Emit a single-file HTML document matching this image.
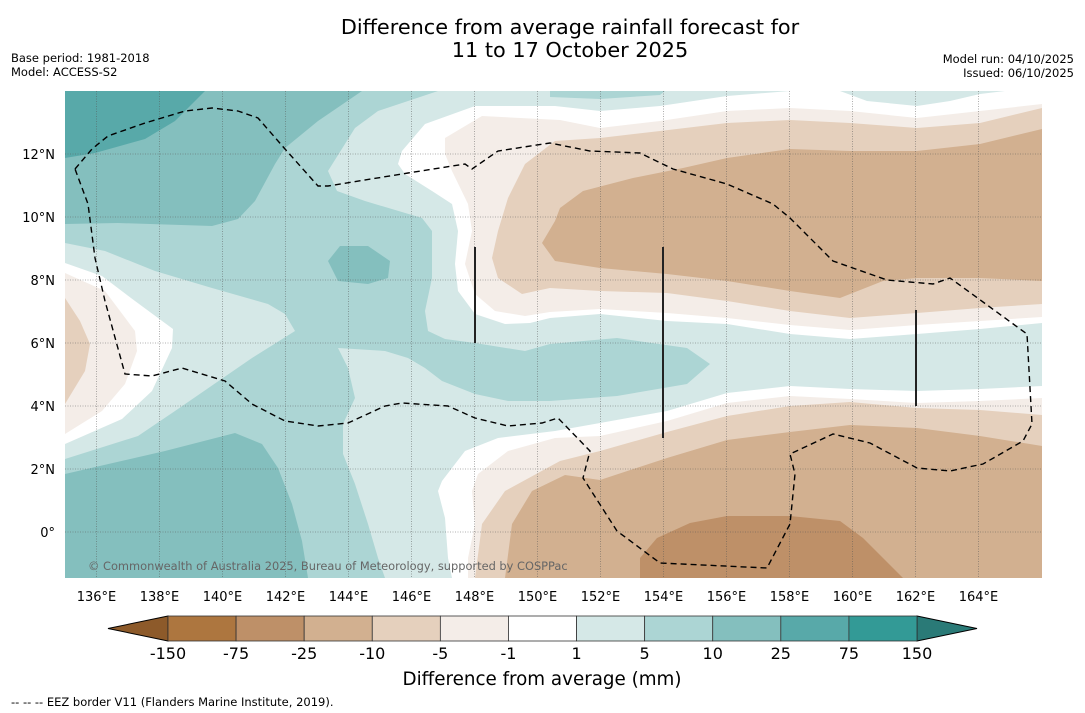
<!DOCTYPE html>
<html><head><meta charset="utf-8"><style>
body{margin:0;background:#fff;}
svg{display:block;font-family:"DejaVu Sans","Liberation Sans",sans-serif;}
</style></head><body>
<svg width="1085" height="713" viewBox="0 0 1085 713" xmlns="http://www.w3.org/2000/svg">
<text x="570" y="34" font-size="20.8" text-anchor="middle">Difference from average rainfall forecast for</text>
<text x="570" y="57" font-size="20.8" text-anchor="middle">11 to 17 October 2025</text>
<text x="11" y="62" font-size="11.5">Base period: 1981-2018</text>
<text x="11" y="76" font-size="11.5">Model: ACCESS-S2</text>
<text x="1074" y="63" font-size="11.5" text-anchor="end">Model run: 04/10/2025</text>
<text x="1074" y="77" font-size="11.5" text-anchor="end">Issued: 06/10/2025</text>
<defs><clipPath id="mc"><rect x="65" y="91" width="977" height="487"/></clipPath></defs>
<g clip-path="url(#mc)">
<rect x="65" y="91" width="977" height="487" fill="#d5e8e7"/>
<path fill="#acd5d4" d="M65,91 L438,91 L378,111 L355,128 L328,171 L337,191 L365,201 L422,218 L432,231 L432,278 L425,311 L428,331 L445,339 L475,343 L525,351 L550,344 L617,338 L687,348 L710,364 L687,384 L617,396 L550,401 L508,401 L475,394 L442,381 L425,368 L408,358 L385,351 L338,348 L348,368 L355,398 L343,424 L343,454 L355,484 L368,524 L378,558 L385,578 L65,578 L65,459 L138,436 L175,411 L252,358 L295,331 L285,314 L268,304 L212,288 L155,271 L105,251 L65,243 Z"/>
<path fill="#acd5d4" d="M550,91 L550,97 L600,99 L660,95 L665,91 Z"/>
<path fill="#84bfbe" d="M65,91 L362,91 L318,121 L285,148 L275,164 L255,201 L238,219 L212,226 L118,223 L65,224 Z"/>
<path fill="#84bfbe" d="M65,474 L165,451 L235,433 L262,444 L278,468 L292,504 L302,541 L308,578 L65,578 Z"/>
<path fill="#84bfbe" d="M328,261 L340,246 L368,246 L390,261 L388,278 L368,284 L338,281 Z"/>
<path fill="#58a9a9" d="M65,91 L205,91 L175,121 L145,139 L95,153 L65,158 Z"/>
<path fill="#ffffff" d="M65,263 L102,276 L135,301 L173,329 L172,348 L152,391 L122,419 L65,444 Z"/>
<path fill="#f4ede8" d="M65,273 L105,291 L135,331 L137,351 L125,384 L102,411 L65,434 Z"/>
<path fill="#e5d0bd" d="M65,298 L80,321 L90,344 L85,371 L65,404 Z"/>
<path fill="#ffffff" d="M1042,91 L790,91 L727,96 L660,106 L600,111 L555,106 L475,106 L425,124 L402,151 L398,164 L405,174 L432,191 L452,204 L458,231 L455,264 L458,291 L475,314 L505,324 L530,323 L550,318 L600,314 L667,321 L727,324 L790,334 L850,339 L917,334 L980,329 L1042,323 Z"/>
<path fill="#d5e8e7" d="M840,91 L867,101 L917,106 L950,101 L980,94 L1005,91 Z"/>
<path fill="#f4ede8" d="M1042,104 L980,111 L917,118 L850,111 L790,108 L727,111 L660,121 L600,128 L560,120 L482,116 L445,138 L445,154 L452,171 L468,204 L472,231 L465,264 L475,294 L495,311 L525,316 L550,312 L600,309 L667,313 L727,318 L790,325 L850,330 L917,325 L980,321 L1042,317 Z"/>
<path fill="#e5d0bd" d="M1042,108 L980,123 L917,128 L850,123 L790,120 L727,123 L660,131 L600,138 L555,141 L525,164 L508,198 L498,231 L492,258 L498,278 L522,294 L550,288 L600,291 L667,293 L727,301 L790,311 L850,318 L917,313 L980,308 L1042,304 Z"/>
<path fill="#d2b090" d="M542,243 L555,221 L560,208 L583,191 L633,178 L683,168 L727,158 L790,149 L850,151 L917,151 L980,144 L1042,129 L1042,281 L980,278 L917,278 L883,281 L840,298 L790,291 L727,281 L667,274 L600,268 L555,261 Z"/>
<path fill="#ffffff" d="M555,431 L498,438 L465,451 L442,481 L438,491 L445,518 L448,558 L452,578 L1042,578 L1042,386 L980,389 L917,391 L850,389 L790,386 L727,393 L667,411 L600,423 Z"/>
<path fill="#f4ede8" d="M555,438 L508,451 L478,474 L472,491 L475,524 L468,558 L468,578 L1042,578 L1042,398 L980,401 L917,403 L850,399 L790,396 L727,403 L667,421 L600,436 Z"/>
<path fill="#e5d0bd" d="M560,461 L505,491 L482,524 L475,578 L1042,578 L1042,415 L980,410 L917,408 L850,402 L790,406 L727,416 L667,432 L600,451 Z"/>
<path fill="#d2b090" d="M565,475 L532,491 L512,524 L505,578 L1042,578 L1042,446 L980,436 L917,428 L850,425 L790,432 L727,440 L667,458 L600,480 Z"/>
<path fill="#be9068" d="M640,578 L640,558 L657,538 L690,523 L727,516 L790,516 L840,521 L863,538 L883,558 L903,578 Z"/>
<g id="grid" stroke="#555" stroke-width="0.8" stroke-dasharray="1,1.5" opacity="0.6"></g>
<path fill="none" stroke="#000" stroke-width="1.4" stroke-dasharray="6,4" d="M75,169 L92,149 L108,136 L145,123 L185,111 L212,108 L238,111 L258,118 L285,149 L318,186 L328,186 L408,173 L465,164 L472,169 L498,151 L550,143 L590,151 L640,153 L673,169 L727,184 L773,204 L790,218 L833,261 L887,280 L933,284 L950,278 L1027,334 L1032,424 L1023,441 L983,464 L950,471 L917,468 L870,443 L833,434 L790,454 L795,474 L790,524 L767,568 L660,563 L617,531 L583,478 L590,451 L558,418 L542,423 L508,426 L475,418 L448,406 L402,403 L385,406 L348,423 L318,426 L285,421 L252,404 L225,381 L182,368 L152,376 L125,374 L105,301 L95,258 L88,204 Z"/>
<g stroke="#222" stroke-width="2">
<line x1="475" y1="247" x2="475" y2="343"/><line x1="663" y1="247" x2="663" y2="438"/><line x1="916" y1="310" x2="916" y2="406"/>
</g>
<text x="88" y="570" font-size="11.4" fill="#666">© Commonwealth of Australia 2025, Bureau of Meteorology, supported by COSPPac</text>
</g>
<g id="axes" font-size="13"></g>
<g id="cbar"></g>
<text x="542" y="685" font-size="18.3" text-anchor="middle">Difference from average (mm)</text>
<text x="11" y="706" font-size="11.5">--  --  -- EEZ border V11 (Flanders Marine Institute, 2019).</text>
</svg>
<script>
const NS='http://www.w3.org/2000/svg';
const lonTicks=[136,138,140,142,144,146,148,150,152,154,156,158,160,162,164];
const latTicks=[0,2,4,6,8,10,12];
const cbLevels=['-150','-75','-25','-10','-5','-1','1','5','10','25','75','150'];
const cbColors=['#ad763f','#be9068','#d2b090','#e5d0bd','#f4ede8','#ffffff','#d5e8e7','#acd5d4','#84bfbe','#58a9a9','#339a96'];
const cbExt=['#8d5a2a','#2a7a77'];
const lon0=135,lonPx=31.5,lat0=14,latPx=31.5;
const xs=l=>65+(l-lon0)*lonPx, ys=l=>91+(lat0-l)*latPx;
function mk(t,a,p){const e=document.createElementNS(NS,t);for(const k in a)e.setAttribute(k,a[k]);p.appendChild(e);return e;}
const grid=document.getElementById('grid'),axes=document.getElementById('axes'),cb=document.getElementById('cbar');
lonTicks.forEach(l=>{
 const ln=mk('line',{x1:xs(l),x2:xs(l),y1:91,y2:578},grid);
 
 
 const t=mk('text',{x:xs(l),y:601,'text-anchor':'middle'},axes);t.textContent=l+'°E';
 
 
});
latTicks.forEach(l=>{
 const ln=mk('line',{x1:65,x2:1042,y1:ys(l),y2:ys(l)},grid);
 
 
 const t=mk('text',{x:55,y:ys(l)+5,'text-anchor':'end'},axes);t.textContent=l===0?'0°':l+'°N';
 
 
});
const cx0=168,cx1=917,cy=616,ch=25,n=cbColors.length,w=(cx1-cx0)/n;
const lt=mk('polygon',{points:`108,${cy+ch/2} ${cx0},${cy} ${cx0},${cy+ch}`,fill:cbExt[0],stroke:'#000','stroke-width':1},cb);


const rt=mk('polygon',{points:`977,${cy+ch/2} ${cx1},${cy} ${cx1},${cy+ch}`,fill:cbExt[1],stroke:'#000','stroke-width':1},cb);


cbColors.forEach((c,i)=>{
 const r=mk('rect',{x:cx0+i*w,y:cy,width:w,height:ch,fill:c,stroke:'#333','stroke-width':0.8},cb);
 
 
});
cbLevels.forEach((s,i)=>{
 const t=mk('text',{x:cx0+i*w,y:659,'font-size':16,'text-anchor':'middle'},cb);t.textContent=s;
 
 
});
</script>
</body></html>
